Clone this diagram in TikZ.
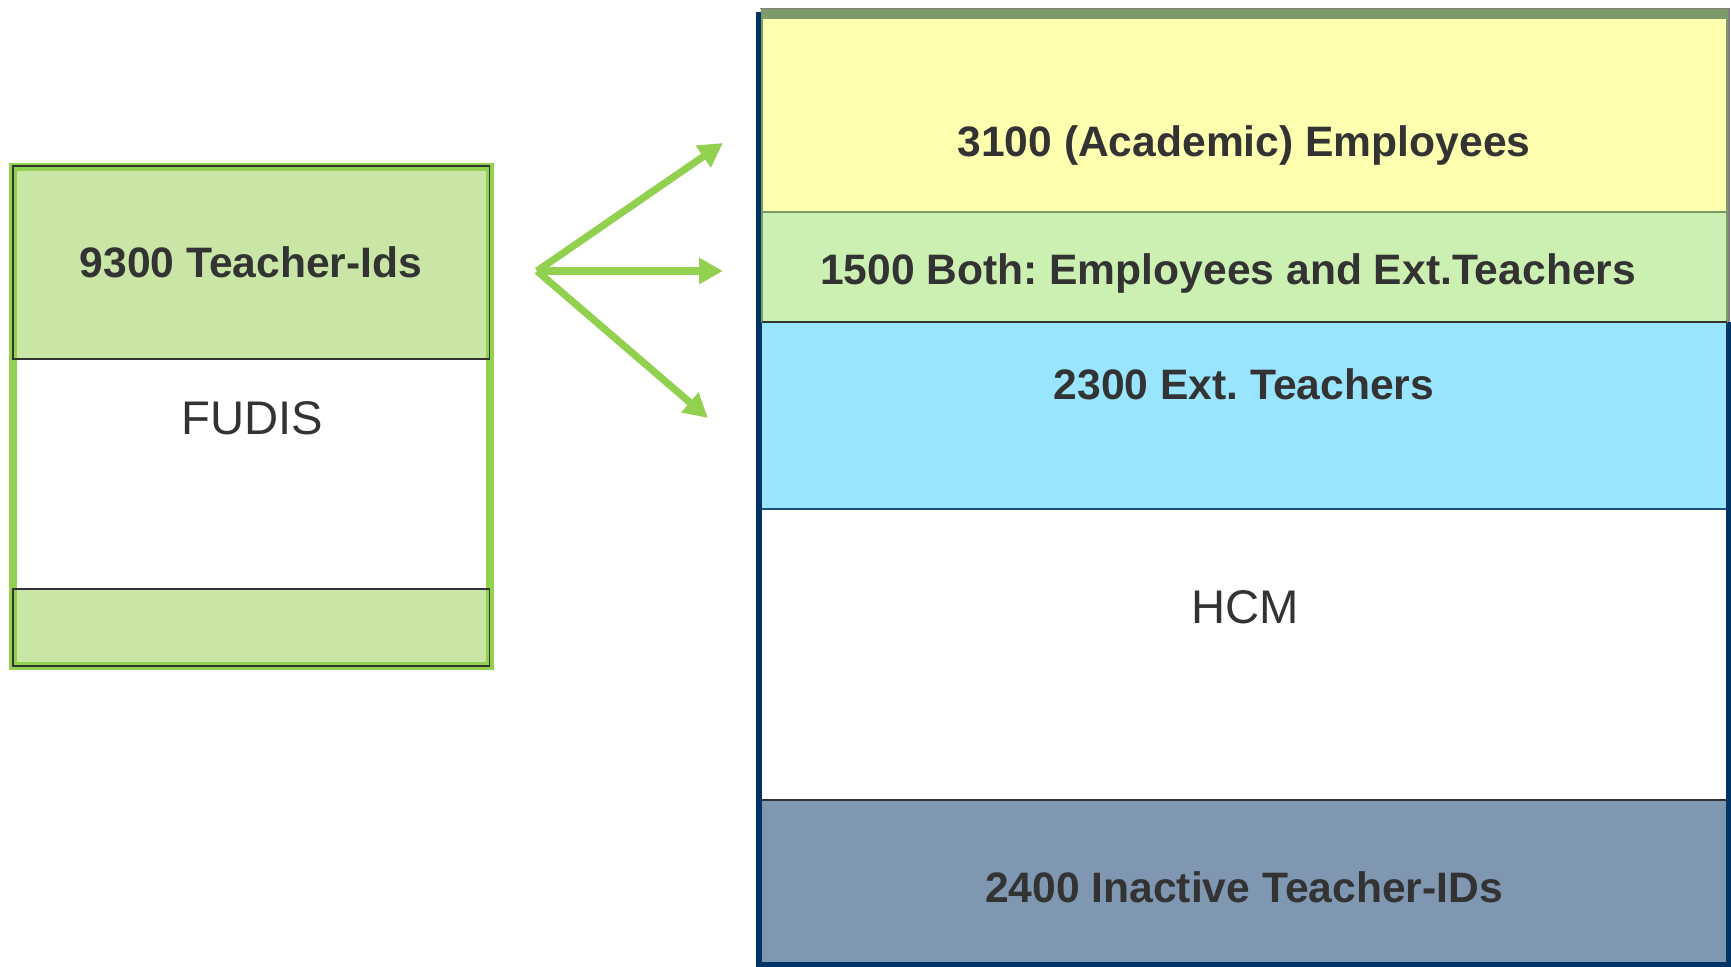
\documentclass[tikz,border=0pt]{standalone}
\usepackage{fontspec}
\setmainfont{Liberation Sans}
\usetikzlibrary{arrows.meta}
\definecolor{frameGreen}{HTML}{92D050}
\definecolor{bandGreen}{HTML}{C9E6A7}
\definecolor{paleYellow}{HTML}{FFFFB0}
\definecolor{paleGreen}{HTML}{CCF0B2}
\definecolor{skyBlue}{HTML}{99E5FF}
\definecolor{slateBlue}{HTML}{7F97B0}
\definecolor{navy}{HTML}{003366}
\definecolor{olive}{HTML}{7F9A6A}
\definecolor{ink}{HTML}{333333}
\definecolor{edgeBlue}{HTML}{1F4E79}
\frenchspacing

\begin{document}
\begin{tikzpicture}[x=0.5pt,y=-0.5pt,
  boldlabel/.style={font=\fontsize{21.3}{25}\selectfont\bfseries, text=ink, anchor=base, inner sep=0pt},
  plainlabel/.style={font=\fontsize{23.6}{27}\selectfont, text=ink, anchor=base, inner sep=0pt},
  bandedge/.style={draw=ink, line width=0.8pt},
  flowarrow/.style={draw=frameGreen, line width=3.6pt, -{Triangle[length=12pt,width=12.5pt]}}]
\useasboundingbox[fill=white] (0,0) rectangle (1731,967);

% ---------- FUDIS ----------
\fill[bandGreen] (13,166) rectangle (489.5,359);
\fill[bandGreen] (13,589) rectangle (489.5,666);
\draw[frameGreen, line width=4pt] (13,167) rectangle (489.5,666);
\draw[bandedge] (13,166) rectangle (489.5,359);
\draw[bandedge] (13,589) rectangle (489.5,666);
\node[boldlabel] (teacherids) at (251,278) {9300 Teacher-Ids};
\node[plainlabel] (fudis) at (252,435) {FUDIS};

% ---------- HCM ----------
\fill[skyBlue] (761,322.5) rectangle (1728,509);
\fill[slateBlue] (761,800) rectangle (1728,963);
\draw[edgeBlue, line width=1pt] (761,509) -- (1728,509);
\draw[ink, line width=1pt] (761,800) -- (1728,800);
\draw[navy, line width=3pt] (1729,322) -- (1729,964.5) -- (759,964.5) -- (759,12);

% employees band
\draw[olive, fill=paleYellow, line width=1pt] (762,10) rectangle (1727,212);
\fill[olive] (762,10) rectangle (1727,19);
\draw[gray, line width=0.6pt] (760,8.5) -- (1729,8.5) -- (1729,322);
% both band
\draw[olive, fill=paleGreen, line width=1pt] (762,212) rectangle (1727,322.5);
\draw[ink, line width=1pt] (762,322.5) -- (1727,322.5);

\node[boldlabel] (employees) at (1244,157) {3100 (Academic) Employees};
\node[boldlabel] (both) at (1228,285) {1500 Both: Employees and Ext.Teachers};
\node[boldlabel] (external) at (1244,400) {2300 Ext. Teachers};
\node[plainlabel] (hcm) at (1245,624) {HCM};
\node[boldlabel] (inactive) at (1244,903) {2400 Inactive Teacher-IDs};

% ---------- arrows ----------
\coordinate (src) at (537,271);
\coordinate (toEmployees) at (723,143);
\coordinate (toBoth) at (723,271);
\coordinate (toExternal) at (708,418);
\draw[flowarrow] (src) -- (toEmployees);
\draw[flowarrow] (src) -- (toBoth);
\draw[flowarrow] (src) -- (toExternal);
\end{tikzpicture}
\end{document}
